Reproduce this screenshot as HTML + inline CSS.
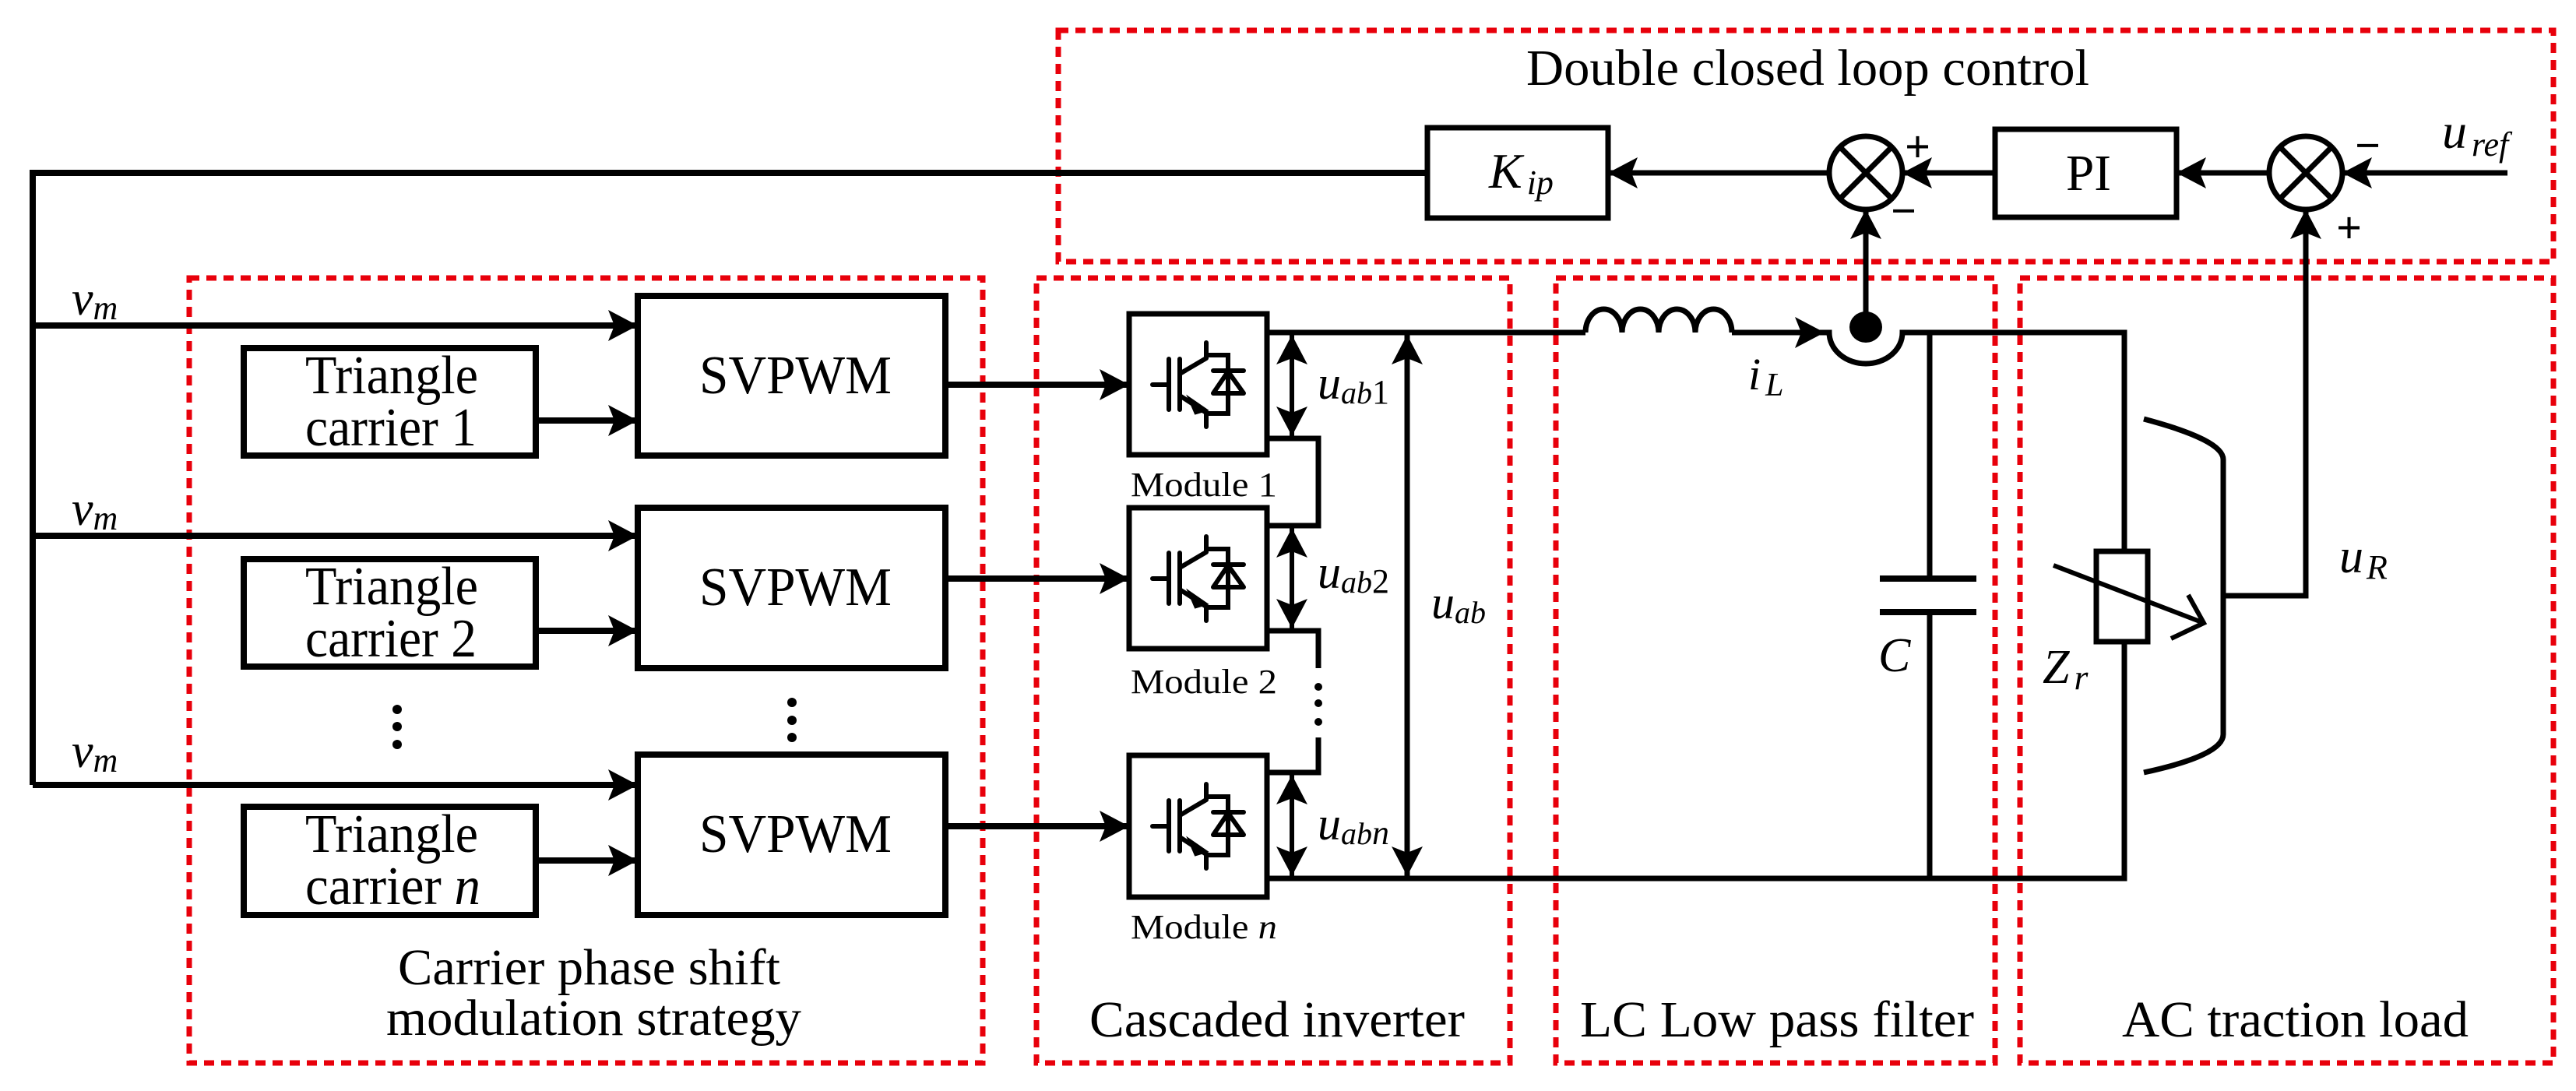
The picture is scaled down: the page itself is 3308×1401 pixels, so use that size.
<!DOCTYPE html>
<html><head><meta charset="utf-8"><style>
html,body{margin:0;padding:0;background:#fff}
svg{display:block}
text{font-family:"Liberation Serif",serif;fill:#000}
.i{font-style:italic}
</style></head><body>
<svg width="3308" height="1401" viewBox="0 0 3308 1401" xmlns="http://www.w3.org/2000/svg">
<defs>
<marker id="a" markerWidth="40" markerHeight="44" refX="38" refY="22" orient="auto" markerUnits="userSpaceOnUse">
<path d="M0,2 L38,22 L0,42 L8,22 Z" fill="#000"/>
</marker>
<g id="igbt" fill="none" stroke="#000" stroke-width="6" stroke-linecap="round">
<path d="M30,91 H51 M51,58 V123 M65,58 V123 M65,77 L99,57 M99,37 V57 M99,53 H127 V128 H99 M65,105 L99,127 M99,127 V145 M108,73 H147"/>
<path d="M108,102 H147 L127,74 Z" stroke-linejoin="round"/>
<path d="M80,112 L96,123 L86,126 Z" fill="#000"/>
</g>
</defs>

<g fill="none" stroke="#e8000b" stroke-width="7" stroke-dasharray="13 9">
<rect x="243" y="357" width="1019" height="1008"/>
<rect x="1331" y="357" width="608" height="1008"/>
<rect x="1998" y="357" width="564" height="1008"/>
<rect x="2594" y="357" width="685" height="1008"/>
<rect x="1359" y="39" width="1920" height="297"/>
</g>

<g fill="none" stroke="#000" stroke-width="8">
<path d="M1833,222 H42 V1008"/>
<path d="M42,418 H819" marker-end="url(#a)"/>
<path d="M42,688 H819" marker-end="url(#a)"/>
<path d="M42,1008 H819" marker-end="url(#a)"/>
<rect x="313" y="447" width="375" height="138"/>
<rect x="313" y="718" width="375" height="138"/>
<rect x="313" y="1036" width="375" height="139"/>
<path d="M688,540 H819" marker-end="url(#a)"/>
<path d="M688,810 H819" marker-end="url(#a)"/>
<path d="M688,1105 H819" marker-end="url(#a)"/>
<rect x="819" y="380" width="395" height="205"/>
<rect x="819" y="652" width="395" height="206"/>
<rect x="819" y="969" width="395" height="206"/>
<path d="M1214,494 H1450" marker-end="url(#a)"/>
<path d="M1214,743 H1450" marker-end="url(#a)"/>
<path d="M1214,1061 H1450" marker-end="url(#a)"/>
</g>
<g stroke="#000" stroke-width="7" fill="none">
<rect x="1450" y="403" width="177" height="181"/>
<rect x="1450" y="652" width="177" height="181"/>
<rect x="1450" y="970" width="177" height="182"/>
<path d="M1627,563 H1693 V675 H1627"/>
<path d="M1627,810 H1693 V858"/>
<path d="M1693,947 V992 H1627"/>
<path d="M1627,427 H2036"/>
<path d="M2036,427 a23.5,30 0 0 1 47,0 a23.5,30 0 0 1 47,0 a23.5,30 0 0 1 47,0 a23.5,30 0 0 1 47,0"/>
<path d="M2224,427 H2343" marker-end="url(#a)"/>
<path d="M2343,427 H2349 A47,40 0 0 0 2443,427 H2728 V1128 H1627"/>
<path d="M2478,427 V743 M2478,786 V1128"/>
<path d="M2414,743 H2538 M2414,786 H2538" stroke-width="8"/>
<path d="M1659,495 V430" marker-end="url(#a)" stroke-width="6"/>
<path d="M1659,495 V560" marker-end="url(#a)" stroke-width="6"/>
<path d="M1659,743 V678" marker-end="url(#a)" stroke-width="6"/>
<path d="M1659,743 V807" marker-end="url(#a)" stroke-width="6"/>
<path d="M1659,1060 V995" marker-end="url(#a)" stroke-width="6"/>
<path d="M1659,1060 V1125" marker-end="url(#a)" stroke-width="6"/>
<path d="M1807,780 V430" marker-end="url(#a)"/>
<path d="M1807,780 V1125" marker-end="url(#a)"/>
<rect x="2692" y="708" width="66" height="116" fill="#fff"/>
<path d="M2637,726 L2830,800 M2810,764 L2830,800 L2788,820" stroke-width="6"/>
<path d="M2753,538 Q2855,565 2855,590 V943 Q2855,970 2753,992" stroke-width="7"/>
<path d="M2855,765 H2961 V269" marker-end="url(#a)"/>
<path d="M2396,420 V269" marker-end="url(#a)"/>
<rect x="1833" y="164" width="232" height="116"/>
<rect x="2562" y="166" width="233" height="113"/>
<path d="M2349,222 H2065" marker-end="url(#a)"/>
<path d="M2562,222 H2443" marker-end="url(#a)"/>
<path d="M2914,222 H2795" marker-end="url(#a)"/>
<path d="M3220,222 H3008" marker-end="url(#a)"/>
<circle cx="2396" cy="222" r="47"/>
<circle cx="2961" cy="222" r="47"/>
<path d="M2363,189 L2429,255 M2429,189 L2363,255 M2928,189 L2994,255 M2994,189 L2928,255"/>
</g>
<ellipse cx="2396" cy="420" rx="21" ry="20" fill="#000"/>
<g fill="#000">
<circle cx="510" cy="911" r="6"/><circle cx="510" cy="933" r="6"/><circle cx="510" cy="956" r="6"/>
<circle cx="1017" cy="902" r="6"/><circle cx="1017" cy="925" r="6"/><circle cx="1017" cy="947" r="6"/>
<circle cx="1693" cy="882" r="5"/><circle cx="1693" cy="903" r="5"/><circle cx="1693" cy="927" r="5"/>
</g>
<use href="#igbt" x="1450" y="403"/>
<use href="#igbt" x="1450" y="652"/>
<use href="#igbt" x="1450" y="970"/>

<g font-size="70">
<text x="392" y="505" textLength="222" lengthAdjust="spacingAndGlyphs">Triangle</text>
<text x="392" y="572" textLength="220" lengthAdjust="spacingAndGlyphs">carrier 1</text>
<text x="392" y="776" textLength="222" lengthAdjust="spacingAndGlyphs">Triangle</text>
<text x="392" y="843" textLength="220" lengthAdjust="spacingAndGlyphs">carrier 2</text>
<text x="392" y="1094" textLength="222" lengthAdjust="spacingAndGlyphs">Triangle</text>
<text x="392" y="1161" textLength="225" lengthAdjust="spacingAndGlyphs">carrier <tspan class="i">n</tspan></text>
<text x="898" y="505" textLength="247" lengthAdjust="spacingAndGlyphs">SVPWM</text>
<text x="898" y="777" textLength="247" lengthAdjust="spacingAndGlyphs">SVPWM</text>
<text x="898" y="1094" textLength="247" lengthAdjust="spacingAndGlyphs">SVPWM</text>
</g>
<g font-size="66">
<text x="511" y="1264" textLength="491" lengthAdjust="spacingAndGlyphs">Carrier phase shift</text>
<text x="496" y="1329" textLength="533" lengthAdjust="spacingAndGlyphs">modulation strategy</text>
<text x="1399" y="1331" textLength="482" lengthAdjust="spacingAndGlyphs">Cascaded inverter</text>
<text x="2029" y="1331" textLength="506" lengthAdjust="spacingAndGlyphs">LC Low pass filter</text>
<text x="2725" y="1331" textLength="445" lengthAdjust="spacingAndGlyphs">AC traction load</text>
<text x="1960" y="109" textLength="723" lengthAdjust="spacingAndGlyphs">Double closed loop control</text>
<text x="2653" y="244" textLength="58" lengthAdjust="spacingAndGlyphs">PI</text>
</g>
<g font-size="44">
<text x="1452" y="637" textLength="188" lengthAdjust="spacingAndGlyphs">Module 1</text>
<text x="1452" y="890" textLength="188" lengthAdjust="spacingAndGlyphs">Module 2</text>
<text x="1452" y="1205" textLength="188" lengthAdjust="spacingAndGlyphs">Module <tspan class="i">n</tspan></text>
</g>
<g class="i">
<text x="92" y="404" font-size="62">v<tspan font-size="44" dy="6">m</tspan></text>
<text x="92" y="674" font-size="62">v<tspan font-size="44" dy="6">m</tspan></text>
<text x="92" y="985" font-size="62">v<tspan font-size="44" dy="6">m</tspan></text>
<text x="1912" y="241" font-size="64">K<tspan font-size="44" dx="6" dy="8">ip</tspan></text>
<text x="3136" y="190" font-size="64">u<tspan font-size="44" dx="6" dy="10">ref</tspan></text>
<text x="1692" y="512" font-size="60">u<tspan font-size="40" dy="6">ab</tspan><tspan font-size="44" font-style="normal">1</tspan></text>
<text x="1692" y="755" font-size="60">u<tspan font-size="40" dy="6">ab</tspan><tspan font-size="44" font-style="normal">2</tspan></text>
<text x="1692" y="1078" font-size="60">u<tspan font-size="40" dy="6">ab</tspan><tspan font-size="44">n</tspan></text>
<text x="1838" y="794" font-size="60">u<tspan font-size="40" dy="6">ab</tspan></text>
<text x="2245" y="500" font-size="58">i<tspan font-size="42" dx="6" dy="8">L</tspan></text>
<text x="2412" y="862" font-size="62">C</text>
<text x="2623" y="877" font-size="62">Z<tspan font-size="46" dx="6" dy="8">r</tspan></text>
<text x="3004" y="735" font-size="62">u<tspan font-size="44" dx="4" dy="8">R</tspan></text>
</g>
<g font-family="Liberation Sans" font-size="58" font-weight="bold">
<text x="2446" y="208">+</text>
<text x="2428" y="290">−</text>
<text x="3024" y="206">−</text>
<text x="3000" y="312">+</text>
</g>
</svg>
</body></html>
